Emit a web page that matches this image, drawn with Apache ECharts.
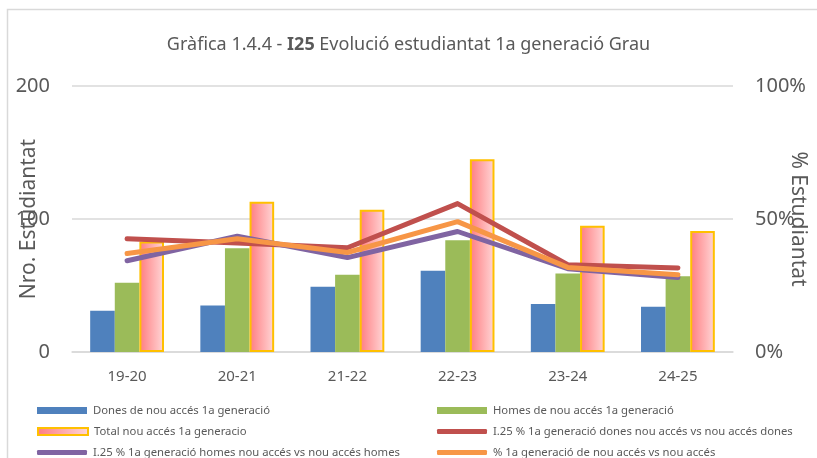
<!DOCTYPE html>
<html>
<head>
<meta charset="utf-8">
<script src="https://cdn.jsdelivr.net/npm/echarts@6/dist/echarts.min.js"></script>
<style>
  html, body { margin: 0; padding: 0; background: #fff; }
  #chart { width: 817px; height: 458px; }
</style>
</head>
<body>
<div id="chart"></div>
<script>
const categories = ['19-20', '20-21', '21-22', '22-23', '23-24', '24-25']
const dones = [31, 35, 49, 61, 36, 34]
const homes = [52, 78, 58, 84, 59, 57]
const total = [83, 113, 107, 145, 95, 91]
// percentages (right axis)
const pctDones = [42.6, 41.0, 39.2, 55.8, 32.8, 31.6]
const pctHomes = [34.3, 43.5, 35.5, 45.3, 31.3, 28.0]
const pctTotal = [37.0, 42.6, 37.4, 49.0, 31.8, 29.0]

const names = [
  'Dones de nou accés 1a generació',
  'Homes de nou accés 1a generació',
  'Total nou accés 1a generacio',
  'I.25 % 1a generació dones nou accés vs nou accés dones',
  'I.25 % 1a generació homes nou accés vs nou accés homes',
  '% 1a generació de nou accés vs nou accés',
]

const FONT = 'Noto Sans'
const GREY = '#595959'
const GRID = '#d9d9d9'

const chart = echarts.init(document.getElementById('chart'), null, { renderer: 'canvas' })

// legend cells: [left, top, icon, height]
const legendCells = [
  [32, 400, 'rect', 7],
  [432, 400, 'rect', 7],
  [32, 421, 'rect', 7],
  [432, 421, 'roundRect', 5],
  [32, 442, 'roundRect', 5],
  [432, 442, 'roundRect', 5],
]

const lineSeries = (name, data, color) => ({
  name,
  type: 'line',
  yAxisIndex: 1,
  data,
  symbol: 'none',
  color,
  z: 5,
  lineStyle: { width: 5, color, cap: 'round', join: 'round' },
})

chart.setOption({
  animation: false,
  textStyle: { fontFamily: FONT },
  title: {
    text: 'Gràfica 1.4.4 - {b|I25} Evolució estudiantat 1a generació Grau',
    left: 'center',
    top: 31,
    textStyle: {
      fontFamily: FONT,
      fontSize: 18,
      fontWeight: 'normal',
      color: GREY,
      rich: { b: { fontFamily: FONT, fontSize: 18, fontWeight: 'bold', color: GREY } },
    },
  },
  legend: names.map((n, i) => ({
    data: [{ name: n, icon: legendCells[i][2] }],
    left: legendCells[i][0],
    top: legendCells[i][1],
    itemWidth: 50,
    itemHeight: legendCells[i][3],
    itemGap: 0,
    selectedMode: false,
    textStyle: { fontFamily: FONT, fontSize: 11.3, color: GREY, padding: [0, 0, 0, 1] },
  })),
  grid: { left: 72, right: 84, top: 86, bottom: 106, outerBoundsMode: 'none', containLabel: false },
  xAxis: {
    type: 'category',
    data: categories,
    axisTick: { show: false },
    axisLine: { lineStyle: { color: GRID, width: 1.5 } },
    axisLabel: { color: GREY, fontSize: 15, margin: 17, fontFamily: FONT },
  },
  yAxis: [
    {
      type: 'value',
      min: 0,
      max: 200,
      interval: 100,
      name: 'Nro. Estudiantat',
      nameLocation: 'middle',
      nameGap: 32,
      nameMoveOverlap: false,
      nameTextStyle: { color: GREY, fontSize: 21, fontFamily: FONT },
      axisLabel: { color: GREY, fontSize: 20, margin: 22, fontFamily: FONT },
      splitLine: { lineStyle: { color: GRID, width: 1.5 } },
      axisLine: { show: false },
      axisTick: { show: false },
    },
    {
      type: 'value',
      min: 0,
      max: 100,
      interval: 50,
      name: '% Estudiantat',
      nameLocation: 'middle',
      nameGap: 54,
      nameRotate: -90,
      nameMoveOverlap: false,
      nameTextStyle: { color: GREY, fontSize: 21, fontFamily: FONT },
      axisLabel: { color: GREY, fontSize: 20, margin: 22, formatter: '{value}%', fontFamily: FONT },
      splitLine: { show: false },
      axisLine: { show: false },
      axisTick: { show: false },
    },
  ],
  series: [
    {
      name: names[0],
      type: 'bar',
      data: dones,
      barGap: '0%',
      barCategoryGap: '33%',
      itemStyle: { color: '#4F81BD' },
    },
    {
      name: names[1],
      type: 'bar',
      data: homes,
      itemStyle: { color: '#9BBB59' },
    },
    {
      name: names[2],
      type: 'bar',
      data: total,
      itemStyle: {
        color: new echarts.graphic.LinearGradient(0, 0, 1, 0, [
          { offset: 0, color: '#FF7C80' },
          { offset: 1, color: '#FFD7D7' },
        ]),
        borderColor: '#FFC000',
        borderWidth: 2,
      },
    },
    lineSeries(names[3], pctDones, '#C0504D'),
    lineSeries(names[4], pctHomes, '#8064A2'),
    lineSeries(names[5], pctTotal, '#F79646'),
  ],
  graphic: [
    {
      type: 'polyline',
      shape: { points: [[7.5, 458], [7.5, 9.5], [817, 9.5]] },
      style: { stroke: GRID, lineWidth: 1.5, fill: null },
      silent: true,
    },
  ],
})
</script>
</body>
</html>
